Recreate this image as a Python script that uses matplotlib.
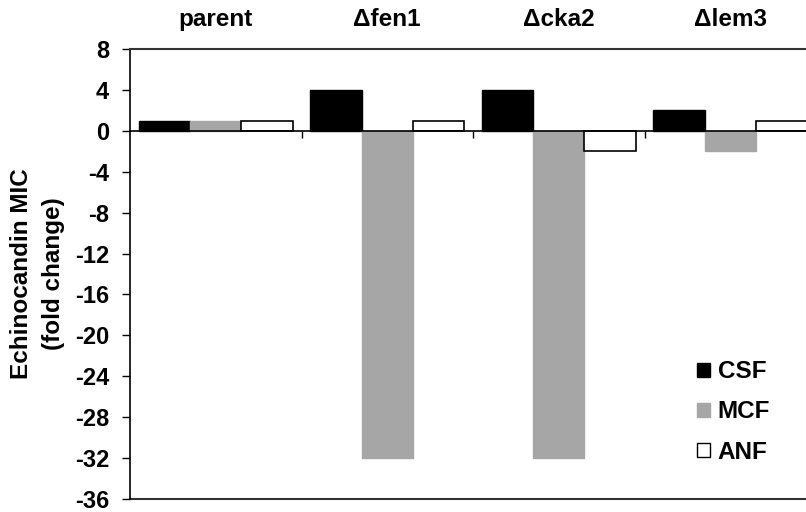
import matplotlib
matplotlib.use("Agg")
import matplotlib.pyplot as plt
import matplotlib.transforms as mtransforms
from matplotlib.patches import Patch
import numpy as np

plt.rcParams['font.family'] = ['Liberation Sans', 'DejaVu Sans']
plt.rcParams['font.weight'] = 'bold'
plt.rcParams['axes.unicode_minus'] = False

strains = ['parent', 'Δfen1', 'Δcka2', 'Δlem3']
csf = [1, 4, 4, 2]
mcf = [1, -32, -32, -2]
anf = [1, 1, -2, 1]
yticks = [8, 4, 0, -4, -8, -12, -16, -20, -24, -28, -32, -36]

fig = plt.figure(figsize=(8.06, 5.12), dpi=100)
ax = fig.add_axes([130 / 806, 1 - 499 / 512, 686 / 806, 450 / 512])

x = np.arange(len(strains))
w = 0.3
ax.bar(x - w, csf, w, color='black', edgecolor='black', linewidth=1, label='CSF')
ax.bar(x, mcf, w, color='#a6a6a6', edgecolor='#a6a6a6', linewidth=1, label='MCF')
ax.bar(x + w, anf, w, color='white', edgecolor='black', linewidth=1.2, label='ANF')

ax.set_xlim(-0.5, 3.5)
ax.set_ylim(-36, 8)
ax.set_yticks(yticks)
ax.tick_params(axis='y', direction='out', length=6, width=1, pad=9, labelsize=17)

# x axis sits on zero, ticks mark the category boundaries
ax.spines['bottom'].set_position(('data', 0))
ax.spines['bottom'].set_linewidth(1.2)
ax.set_xticks([0.5, 1.5, 2.5])
ax.set_xticklabels([])
ax.tick_params(axis='x', direction='out', length=5, width=1)

ax.spines['right'].set_visible(False)
ax.spines['top'].set_color('#333333')
ax.spines['top'].set_linewidth(1.5)
ax.spines['left'].set_linewidth(1.2)
ax.axhline(-36, color='#333333', linewidth=1.5, clip_on=False)

trans = mtransforms.blended_transform_factory(ax.transData, ax.transAxes)
for i, name in enumerate(strains):
    ax.text(i, 1.065, name, transform=trans, ha='center', va='center',
            fontsize=17.5, fontweight='bold')

ax.set_ylabel('Echinocandin MIC\n(fold change)', fontsize=17.5, fontweight='bold',
              labelpad=7, linespacing=1.5)

handles = [Patch(facecolor='black', edgecolor='black'),
           Patch(facecolor='#a6a6a6', edgecolor='#a6a6a6'),
           Patch(facecolor='white', edgecolor='black')]
ax.legend(handles, ['CSF', 'MCF', 'ANF'], loc='center left',
          bbox_to_anchor=(697 / 806, 1 - 412 / 512), bbox_transform=fig.transFigure,
          frameon=False, fontsize=17.5, handlelength=0.55, handleheight=0.55,
          handletextpad=0.3, labelspacing=0.7, borderaxespad=0, borderpad=0)

fig.savefig('out.png', dpi=100)
